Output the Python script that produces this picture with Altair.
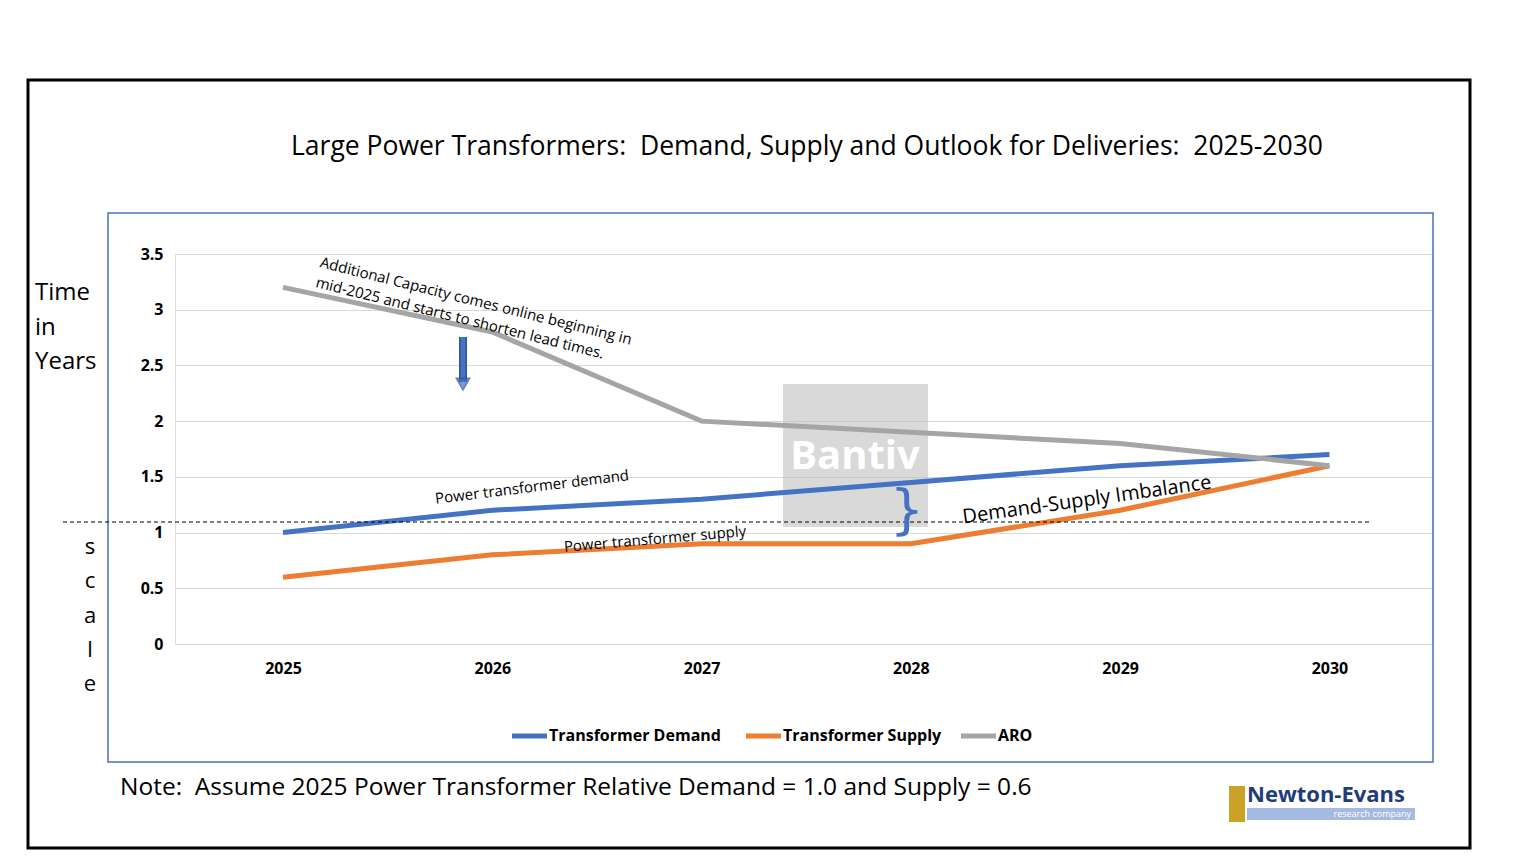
import altair as alt
import pandas as pd

years = [2025, 2026, 2027, 2028, 2029, 2030]
demand = [1.0, 1.2, 1.3, 1.45, 1.6, 1.7]
supply = [0.6, 0.8, 0.9, 0.9, 1.2, 1.6]
aro = [3.2, 2.8, 2.0, 1.9, 1.8, 1.6]
series = ["Transformer Demand", "Transformer Supply", "ARO"]
colors = ["#4472C4", "#ED7D31", "#A5A5A5"]

df = pd.DataFrame({
    "year": years * 3,
    "value": demand + supply + aro,
    "series": [s for s in series for _ in years],
})

FONT = "Open Sans"
NB = "\u00a0"
W, H = 1257, 390

lines = alt.Chart(df).mark_line(strokeWidth=5, clip=False).encode(
    x=alt.X("year:Q", scale=alt.Scale(domain=[2024.484, 2030.49], nice=False),
            axis=alt.Axis(values=years, format="d", title=None, grid=False, domain=False,
                          ticks=False, labelFontWeight="bold", labelFontSize=16,
                          labelPadding=16, labelColor="black", labelFont=FONT)),
    y=alt.Y("value:Q", scale=alt.Scale(domain=[0, 3.5], nice=False),
            axis=alt.Axis(values=[0, 0.5, 1, 1.5, 2, 2.5, 3, 3.5], format="~g", title=None,
                          domain=False, ticks=False, labelFontWeight="bold", labelFontSize=16,
                          labelPadding=12, labelColor="black", gridColor="#d9d9d9",
                          labelFont=FONT)),
    color=alt.Color("series:N", scale=alt.Scale(domain=series, range=colors), legend=None),
)


def box(x, x2, y, y2, stroke, sw, fill="transparent", opacity=1.0):
    return alt.Chart(pd.DataFrame({"a": [0]})).mark_rect(
        stroke=stroke, strokeWidth=sw, fill=fill, opacity=opacity, clip=False
    ).encode(x=alt.value(x), x2=alt.value(x2), y=alt.value(y), y2=alt.value(y2))


def txt(s, x, y, size, angle=0, align="center", weight="normal", color="black", font=FONT):
    return alt.Chart(pd.DataFrame({"t": [s]})).mark_text(
        fontSize=size, angle=angle, align=align, baseline="middle", fontWeight=weight,
        color=color, font=font, clip=False
    ).encode(x=alt.value(x), y=alt.value(y), text="t:N")


def seg(x, x2, y, y2, color, sw, dash=None):
    kw = {"strokeDash": dash} if dash else {}
    return alt.Chart(pd.DataFrame({"a": [0]})).mark_rule(
        color=color, strokeWidth=sw, clip=False, **kw
    ).encode(x=alt.value(x), x2=alt.value(x2), y=alt.value(y), y2=alt.value(y2))


title = ("Large Power Transformers:" + NB * 2 + "Demand, Supply and Outlook for Deliveries:"
         + NB * 2 + "2025-2030")
note = "Note:" + NB * 2 + "Assume 2025 Power Transformer Relative Demand = 1.0 and Supply = 0.6"

layers = [
    box(-147, 1295, -174, 594, "black", 3),
    box(-67, 1258, -41, 508, "#4472C4", 1.5),
    box(608, 753, 130, 273, None, 0, fill="#bfbfbf", opacity=0.6),
    txt("Bantiv", 680, 203, 40, weight="bold", color="white"),
    lines,
    seg(-112, 1197, 268, 268, "black", 1, dash=[4, 3]),
    txt(title, 632, -107, 26.5),
    txt("Time", -140, 39, 24, align="left"),
    txt("in", -140, 74, 24, align="left"),
    txt("Years", -140, 108, 24, align="left"),
]
for i, ch in enumerate(["s", "c", "a", "l", "e"]):
    layers.append(txt(ch, -85, 293 + i * 34.3, 22))

layers += [
    txt("Additional Capacity comes online beginning in", 301, 47, 15, angle=14),
    txt("mid-2025 and starts to shorten lead times.", 285, 64, 15, angle=14),
    seg(288, 288, 83, 128, "#2F5597", 8),
    seg(288, 288, 83, 128, "#4472C4", 5),
    alt.Chart(pd.DataFrame({"a": [0]})).mark_point(
        shape="triangle-down", filled=True, size=160, color="#4472C4", stroke="#2F5597",
        clip=False).encode(x=alt.value(288), y=alt.value(130)),
    txt("Power transformer demand", 357, 233, 15, angle=353),
    txt("Power transformer supply", 480, 285, 15, angle=355),
    txt("Demand-Supply Imbalance", 912, 246, 20, angle=352),
    txt("}", 732, 258, 54, color="#4472C4", font="DejaVu Sans"),
    txt(note, -55, 534, 24.5, align="left"),
    box(1054, 1070, 532, 568, None, 0, fill="#C9A227"),
    box(1072, 1240, 554, 566, None, 0, fill="#8EA9DB", opacity=0.8),
    txt("Newton-Evans", 1072, 541, 22, align="left", color="#1F3D7A", weight="bold"),
    txt("research company", 1236, 560, 9, align="right", color="white"),
]
for i, s in enumerate(series):
    x0 = [337, 571, 786][i]
    layers.append(seg(x0, x0 + 35, 482, 482, colors[i], 5))
    layers.append(txt(s, x0 + 37, 482, 16, align="left", weight="bold"))

chart = alt.layer(*layers).properties(
    width=W, height=H,
    padding={"left": 167, "top": 246, "right": 60, "bottom": 210},
    autosize=alt.AutoSizeParams(type="none"),
).configure_view(stroke=None).configure(background="white")

chart.save("out.html", embed_options={"renderer": "svg", "actions": False})
